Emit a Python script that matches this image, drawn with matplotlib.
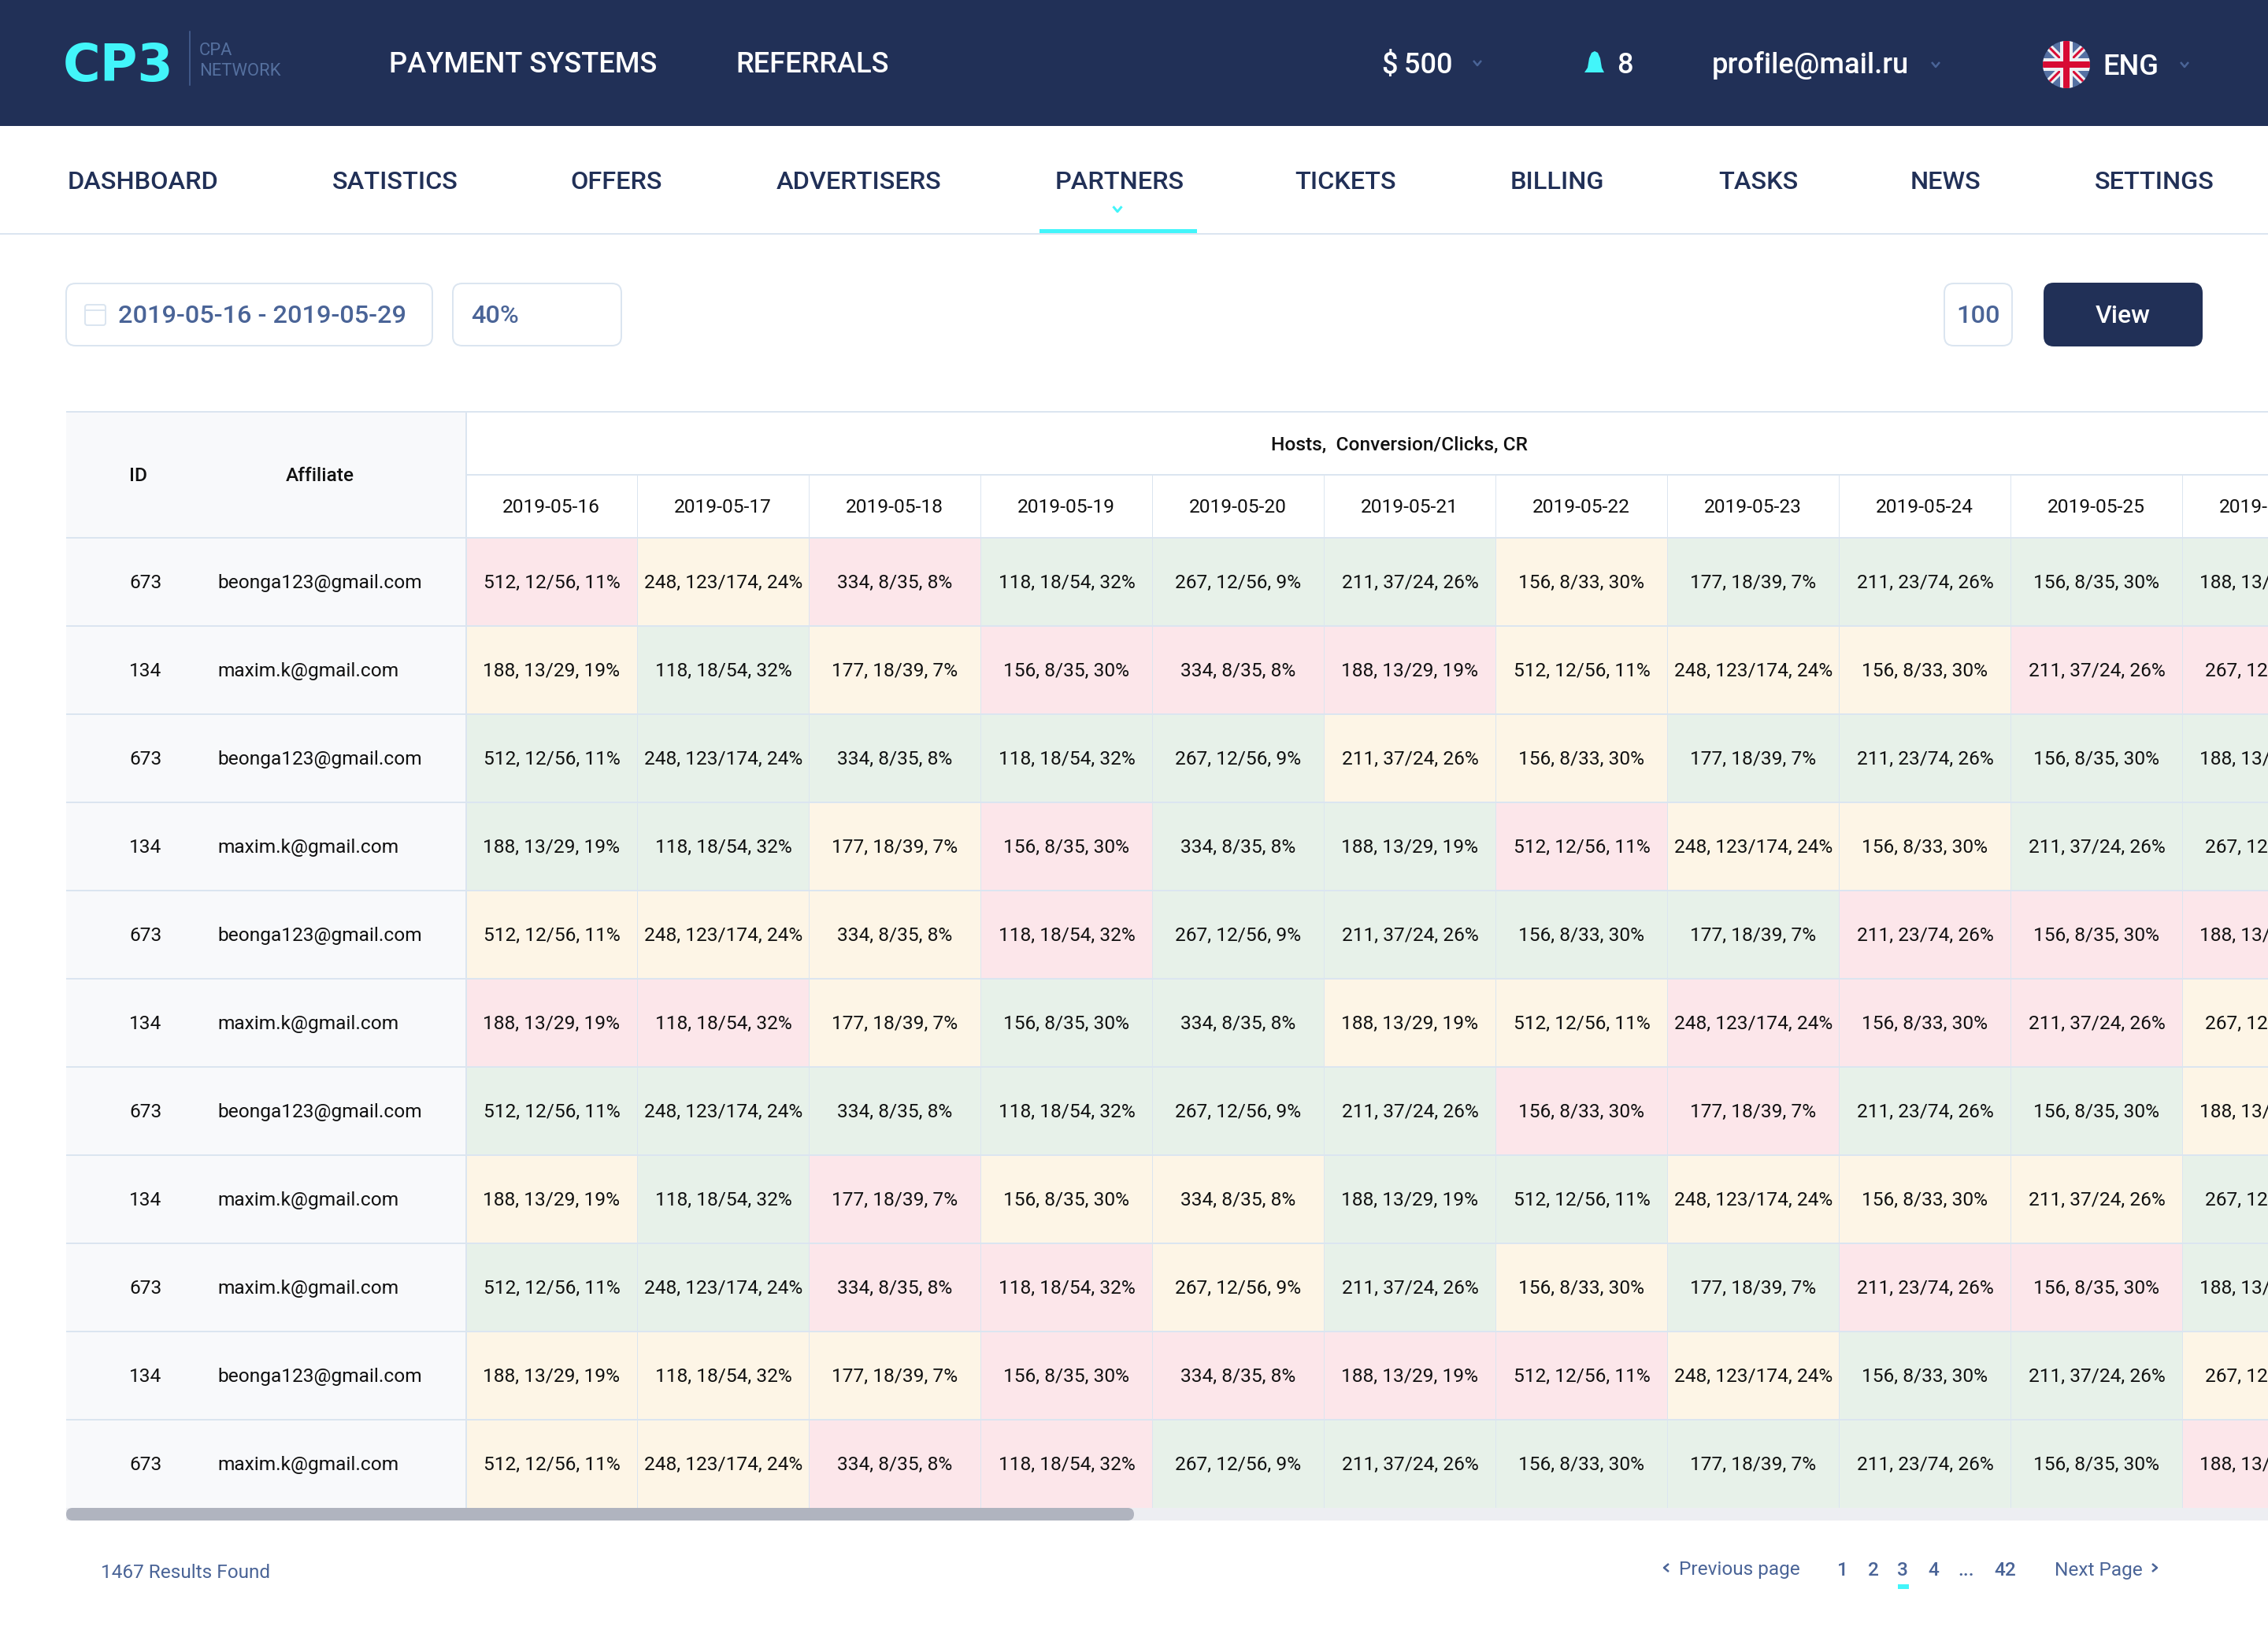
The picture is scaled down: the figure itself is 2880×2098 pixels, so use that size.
#!/usr/bin/env python3
"""
CP3 partners page: daily hosts / conversion table
"""

import matplotlib
matplotlib.use('Agg')
import matplotlib.pyplot as plt
import matplotlib.patches as patches
from matplotlib.patches import FancyBboxPatch

# Data
top_links = ['PAYMENT SYSTEMS', 'REFERRALS']
menu_items = ['DASHBOARD', 'SATISTICS', 'OFFERS', 'ADVERTISERS', 'PARTNERS',
              'TICKETS', 'BILLING', 'TASKS', 'NEWS', 'SETTINGS']
dates = ['2019-05-16', '2019-05-17', '2019-05-18', '2019-05-19', '2019-05-20', '2019-05-21',
         '2019-05-22', '2019-05-23', '2019-05-24', '2019-05-25', '2019-05-26']
ids = ['673', '134', '673', '134', '673', '134', '673', '134', '673', '134', '673']
affiliates = ['beonga123@gmail.com', 'maxim.k@gmail.com', 'beonga123@gmail.com', 'maxim.k@gmail.com',
              'beonga123@gmail.com', 'maxim.k@gmail.com', 'beonga123@gmail.com', 'maxim.k@gmail.com',
              'maxim.k@gmail.com', 'beonga123@gmail.com', 'maxim.k@gmail.com']
values_odd = ['512, 12/56, 11%', '248, 123/174, 24%', '334, 8/35, 8%', '118, 18/54, 32%',
              '267, 12/56, 9%', '211, 37/24, 26%', '156, 8/33, 30%', '177, 18/39, 7%',
              '211, 23/74, 26%', '156, 8/35, 30%', '188, 13/29, 19%']
values_even = ['188, 13/29, 19%', '118, 18/54, 32%', '177, 18/39, 7%', '156, 8/35, 30%',
               '334, 8/35, 8%', '188, 13/29, 19%', '512, 12/56, 11%', '248, 123/174, 24%',
               '156, 8/33, 30%', '211, 37/24, 26%', '267, 12/56, 9%']
# r / y / g status of each cell
cell_status = ['ryrgggygggg', 'ygyrrryyyrr', 'gggggyygggg', 'ggyrggryygg',
               'yyyrggggrrr', 'rryggyyrrry', 'ggggggrrggy', 'ygryyggyyyg',
               'ggrrygygrrg', 'yyyrrrryggy', 'yyrrggggggr']
pages = ['1', '2', '3', '4', '...', '42']

# Colors
navy = '#213057'
cyan = '#42f5fa'
slate = '#4a6497'
line_color = '#dbe5f0'
panel_color = '#f8f9fb'
ink = '#111111'
status_colors = {'r': '#fce6ea', 'y': '#fdf5e6', 'g': '#e7f1e9'}
flag_blue = '#5571a3'
flag_red = '#d80b34'
flag_white = '#eef0f4'

PX = 0.72  # points per pixel at dpi 100
W, H = 2880, 2098

plt.rcParams['font.family'] = ['Roboto', 'DejaVu Sans']
fig = plt.figure(figsize=(W / 100, H / 100), dpi=100, facecolor='white')
ax = fig.add_axes([0, 0, 1, 1])
ax.set_xlim(0, W)
ax.set_ylim(H, 0)
ax.axis('off')


def label(x, cy, s, size, color='black', ha='left', weight='normal', **kw):
    # cy is the middle of the capitals, size is in pixels
    return ax.text(x, cy + 0.355 * size, s, fontsize=size * PX, color=color, ha=ha,
                   va='baseline', fontweight=weight, zorder=5, **kw)


def rect(x0, y0, x1, y1, color, z=1):
    ax.add_patch(patches.Rectangle((x0, y0), x1 - x0, y1 - y0, facecolor=color,
                                   edgecolor='none', zorder=z))


def box(x0, y0, x1, y1, face='white', edge=line_color, r=12):
    ax.add_patch(FancyBboxPatch((x0 + r, y0 + r), x1 - x0 - 2 * r, y1 - y0 - 2 * r,
                                boxstyle='round,pad=%d,rounding_size=%d' % (r, r),
                                facecolor=face, edgecolor=edge, linewidth=2 * PX, zorder=2))


def chevron(x, y, size, color, lw=2.5, direction='down'):
    if direction == 'down':
        xs, ys = [x - size, x, x + size], [y - size * 0.6, y + size * 0.6, y - size * 0.6]
    elif direction == 'left':
        xs, ys = [x + size * 0.6, x - size * 0.6, x + size * 0.6], [y - size, y, y + size]
    else:
        xs, ys = [x - size * 0.6, x + size * 0.6, x - size * 0.6], [y - size, y, y + size]
    ax.plot(xs, ys, color=color, linewidth=lw * PX, solid_capstyle='butt', zorder=3)


# Top bar
rect(0, 0, W, 160, navy)
label(80, 79.5, 'CP3', 65, color=cyan, weight='bold', family='DejaVu Sans')
ax.plot([241, 241], [40, 108], color=slate, linewidth=1.5 * PX, zorder=3)
label(253, 62, 'CPA', 22, color='#55709f')
label(253, 88, 'NETWORK', 22, color='#55709f')

label(494, 79, top_links[0], 36.2, color='white', weight=500)
label(934, 79, top_links[1], 36.2, color='white', weight=500)

label(1755, 80, '$\u2009500', 36.2, color='white', weight=500)
chevron(1876, 80, 5, slate)
bell = [(2012, 92), (2016, 86), (2018, 74), (2021, 67), (2025, 65), (2029, 67), (2032, 74),
        (2034, 86), (2037, 92)]
ax.add_patch(patches.Polygon(bell, closed=True, facecolor=cyan, edgecolor='none', zorder=3))
label(2053, 80, '8', 36.2, color='white', weight=500)
label(2174, 80, 'profile@mail.ru', 36.4, color='white', weight=500)
chevron(2458, 82, 5, slate)

# Flag
flag_c = (2624, 82)
disc = patches.Circle(flag_c, 30, facecolor=flag_blue, edgecolor='none', zorder=3)
ax.add_patch(disc)
for dx, dy, lw, col in [(30, 30, 9, flag_white), (30, -30, 9, flag_white),
                        (30, 30, 3, flag_red), (30, -30, 3, flag_red)]:
    line, = ax.plot([flag_c[0] - dx, flag_c[0] + dx], [flag_c[1] - dy, flag_c[1] + dy],
                    color=col, linewidth=lw * PX, zorder=3.1, solid_capstyle='butt')
    line.set_clip_path(disc)
for x0, y0, x1, y1, col, z in [(2594, 74, 2654, 90, flag_white, 3.2), (2616, 52, 2632, 112, flag_white, 3.2),
                               (2594, 78, 2654, 86, flag_red, 3.3), (2620, 52, 2628, 112, flag_red, 3.3)]:
    piece = patches.Rectangle((x0, y0), x1 - x0, y1 - y0, facecolor=col, edgecolor='none', zorder=z)
    ax.add_patch(piece)
    piece.set_clip_path(disc)
label(2670, 82, 'ENG', 36.2, color='white', weight=500)
chevron(2774, 82, 5, slate)

# Menu
menu_x = [86, 422, 724, 986, 1340, 1644, 1918, 2182, 2426, 2660]
for x, item in zip(menu_x, menu_items):
    label(x, 228.5, item, 32.5, color=navy, weight=500)
rect(0, 296, W, 298, line_color)
rect(1320, 291, 1520, 296, cyan, z=2)
chevron(1419, 265.5, 5.5, cyan, lw=3)

# Filters
box(84, 360, 549, 439)
label(150, 398.5, '2019-05-16 - 2019-05-29', 32.5, color=slate, weight=500)
ax.add_patch(FancyBboxPatch((109, 388), 24, 24, boxstyle='round,pad=1,rounding_size=3',
                            facecolor='white', edgecolor=line_color, linewidth=2 * PX, zorder=3))
ax.plot([108, 134], [394, 394], color=line_color, linewidth=2 * PX, zorder=3)
box(575, 360, 789, 439)
label(598, 398.5, '40%', 32.5, color=slate, weight=500)
box(2469, 360, 2555, 439)
label(2512, 398.5, '100', 32.5, color=slate, ha='center', weight=500)
box(2596, 360, 2796, 439, face=navy, edge=navy)
label(2696, 398.5, 'View', 32, color='white', ha='center', weight=500)

# Table
table_left = 84
first_col = 591.5
col_w = 218
row_h = 112
header_top = 523
dates_top = 603
rows_top = 683
rows_bottom = rows_top + row_h * len(ids)
text_size = 24.5

rect(table_left, header_top, first_col, rows_bottom, panel_color)

for r, status in enumerate(cell_status):
    y0 = rows_top + r * row_h
    values = values_odd if r % 2 == 0 else values_even
    for c, key in enumerate(status):
        x0 = first_col + c * col_w
        rect(x0, y0, x0 + col_w, y0 + row_h, status_colors[key])
        label(x0 + col_w / 2, y0 + 55.5, values[c], text_size, color=ink, ha='center')
    label(164, y0 + 55.5, ids[r], text_size, color=ink)
    label(276, y0 + 55.5, affiliates[r], text_size, color=ink)

# grid lines
for y in [header_top] + [rows_top + r * row_h for r in range(len(ids))]:
    rect(table_left, y - 1, W, y + 1, line_color, z=3)
rect(first_col, dates_top - 1, W, dates_top + 1, line_color, z=3)
rect(first_col - 1, header_top, first_col + 1, rows_bottom, line_color, z=3)
for c in range(1, len(dates)):
    x = first_col + c * col_w
    rect(x - 0.75, dates_top, x + 0.75, rows_bottom, line_color, z=3)

label(164, 602.5, 'ID', text_size, color=ink, weight=500)
label(406, 602.5, 'Affiliate', text_size, color=ink, ha='center', weight=500)
label(1777, 562.5, 'Hosts,  Conversion/Clicks, CR', text_size, color=ink, ha='center', weight=500)
for c, date in enumerate(dates):
    label(first_col + c * col_w + col_w / 2 - 0.5, 642.5, date, text_size, color=ink, ha='center')

# Scrollbar
rect(table_left, rows_bottom, W, rows_bottom + 16, '#edeef2', z=3)
ax.add_patch(FancyBboxPatch((table_left, rows_bottom), 1356, 16,
                            boxstyle='round,pad=0,rounding_size=8',
                            facecolor='#b0b4bf', edgecolor='none', zorder=4))

# Footer
label(128, 1995, '1467 Results Found', 24.4, color=slate)
chevron(2116, 1991, 5, slate, direction='left')
label(2132, 1991, 'Previous page', 24.4, color=slate)
for x, page in zip([2340, 2379, 2416, 2455, 2497, 2546], pages):
    label(x, 1992.5, page, 24.4, color=slate, ha='center', weight=500)
rect(2410, 2012, 2424, 2018, cyan)
label(2609, 1992.5, 'Next Page', 24.4, color=slate)
chevron(2736, 1991, 5, slate, direction='right')

fig.savefig('out.png', dpi=100, facecolor='white')
